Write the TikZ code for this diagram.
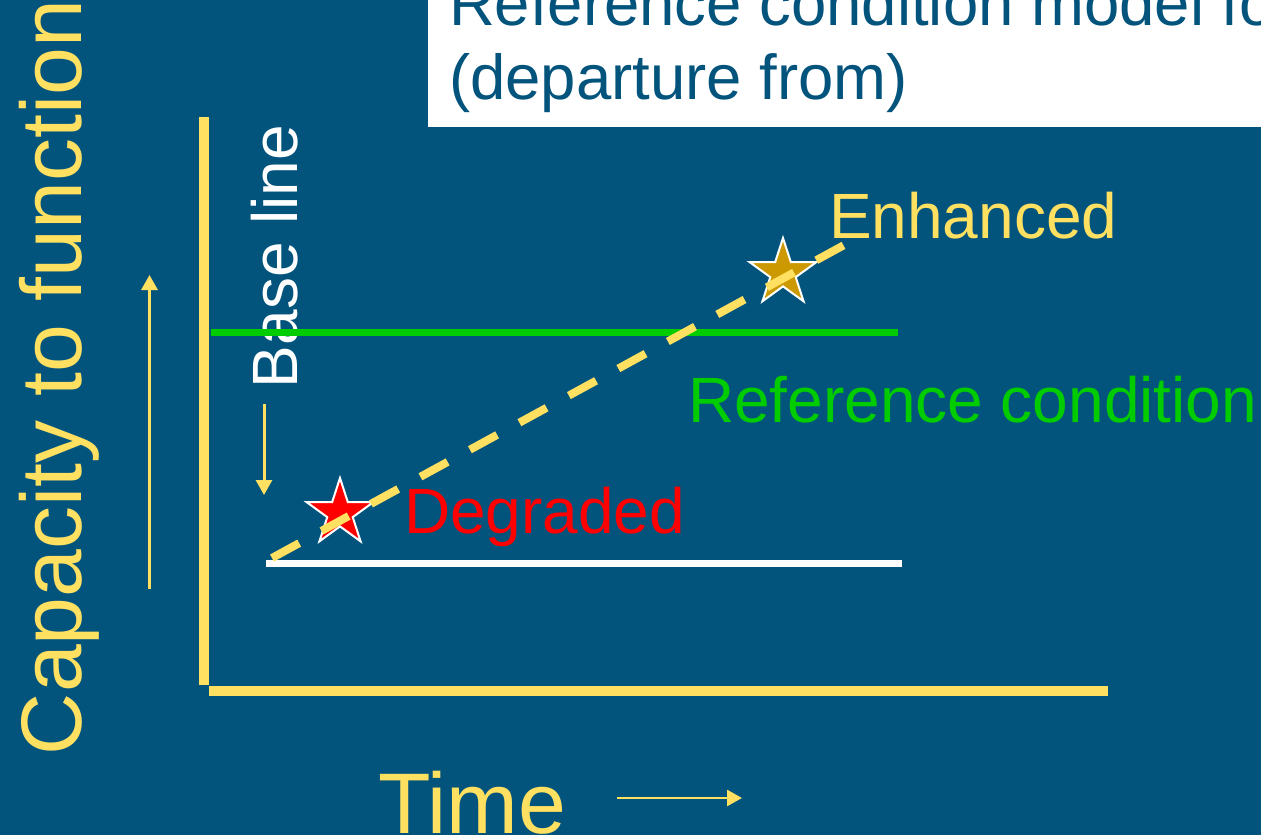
\documentclass[tikz,border=0pt]{standalone}
\usepackage{fontspec}
\setmainfont{Liberation Sans}
\usetikzlibrary{arrows.meta,shapes.geometric}
\definecolor{bgblue}{RGB}{3,84,125}
\definecolor{axisyellow}{RGB}{255,224,96}
\definecolor{refgreen}{RGB}{0,204,0}
\definecolor{starred}{RGB}{255,0,0}
\definecolor{stargold}{RGB}{204,153,0}
\begin{document}
\begin{tikzpicture}[x=1pt,y=-1pt,
  lbl/.style={inner sep=0pt, outer sep=0pt, anchor=base west, font=\fontsize{64}{72}\selectfont},
  biglbl/.style={inner sep=0pt, outer sep=0pt, anchor=base west, font=\fontsize{86}{96}\selectfont},
  titlelbl/.style={inner sep=0pt, outer sep=0pt, anchor=base west, font=\fontsize{63.5}{72}\selectfont, text=bgblue},
  axisline/.style={draw=axisyellow, line width=10pt},
  levelline/.style={line width=7pt},
  smallarrow/.style={draw=axisyellow, line width=3pt, -{Triangle[length=15pt,width=16pt]}},
  starmark/.style={star, star points=5, star point ratio=2.618, minimum size=70pt, inner sep=0pt, draw=white, line width=2pt},
  trend/.style={draw=axisyellow, line width=8pt, dash pattern=on 31pt off 25.4pt},
]
\fill[bgblue] (0,0) rectangle (1261,835);
\useasboundingbox (0,0) rectangle (1261,835);
% title box
\node[fill=white, inner sep=0pt, minimum width=840pt, minimum height=140pt, anchor=south west] (titlebox) at (428,127) {};
\node[titlelbl] (title1) at (449,25) {Reference condition model for};
\node[titlelbl] (title2) at (449,99) {(departure from)};
% axes
\coordinate (yTop) at (204,117);
\coordinate (yBot) at (204,685);
\coordinate (xLeft) at (209,691);
\coordinate (xRight) at (1108,691);
\draw[axisline] (yTop) -- (yBot);
\draw[axisline] (xLeft) -- (xRight);
% axis labels
\node[biglbl, text=axisyellow, rotate=90] (cap) at (81,755) {Capacity to function};
\coordinate (capArrowBot) at (149.5,589);
\coordinate (capArrowTop) at (149.5,275);
\draw[smallarrow] (capArrowBot) -- (capArrowTop);
\node[biglbl, text=axisyellow] (time) at (378,833) {Time};
\coordinate (timeArrowL) at (617,798);
\coordinate (timeArrowR) at (742,798);
\draw[smallarrow, line width=2.5pt] (timeArrowL) -- (timeArrowR);
% base line label and arrow
\node[lbl, text=white, rotate=90] (baselbl) at (297,388) {Base line};
\coordinate (baseArrowTop) at (264,404);
\coordinate (baseArrowBot) at (264,495);
\draw[smallarrow] (baseArrowTop) -- (baseArrowBot);
% reference and base levels
\coordinate (greenL) at (211,332);
\coordinate (greenR) at (898,332);
\draw[levelline, refgreen] (greenL) -- (greenR);
\coordinate (whiteL) at (266,563);
\coordinate (whiteR) at (902,563);
\draw[levelline, white] (whiteL) -- (whiteR);
% stars
\node[starmark, fill=starred] (starRed) at (340,513) {};
\node[starmark, fill=stargold] (starGold) at (783,273) {};
% trend line
\coordinate (trendStart) at (272,558);
\coordinate (trendEnd) at (846,244);
\draw[trend] (trendStart) -- (trendEnd);
% labels
\node[lbl, text=axisyellow] (enh) at (829,238) {Enhanced};
\node[lbl, text=refgreen] (reflbl) at (688,422) {Reference condition};
\node[lbl, text=starred] (deg) at (404,533) {Degraded};
\end{tikzpicture}
\end{document}
